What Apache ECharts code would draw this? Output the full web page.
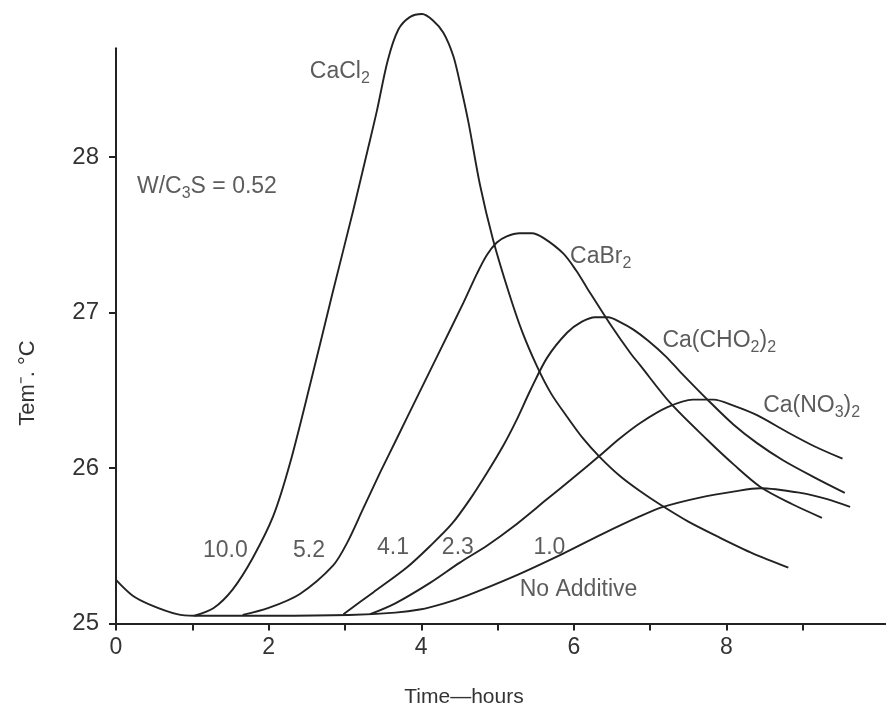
<!DOCTYPE html>
<html><head><meta charset="utf-8">
<script src="https://cdn.jsdelivr.net/npm/echarts@6/dist/echarts.min.js"></script>
<style>html,body{margin:0;padding:0;background:#fff}#c{width:886px;height:709px}</style>
</head><body><div id="c"></div>
<script>
// Data (x = time in hours, y = temperature °C)
const noAdditive = [[0,25.28],[0.215,25.18],[0.45,25.12],[0.80,25.06],[1.025,25.05],[2.04,25.05],[3.05,25.055],[3.66,25.07],[3.98,25.09],[4.3,25.13],[4.6,25.18],[5.2,25.30],[5.86,25.45],[6.35,25.57],[6.87,25.69],[7.17,25.75],[7.65,25.81],[8.11,25.85],[8.44,25.87],[8.97,25.84],[9.32,25.80],[9.62,25.75]];
const caCl2 = [[1.03,25.05],[1.28,25.10],[1.53,25.22],[1.79,25.42],[2.06,25.69],[2.28,26.03],[2.55,26.55],[2.84,27.13],[3.11,27.66],[3.3,28.05],[3.42,28.3],[3.56,28.62],[3.7,28.82],[3.85,28.9],[4.01,28.92],[4.15,28.88],[4.29,28.8],[4.42,28.65],[4.51,28.47],[4.62,28.22],[4.77,27.82],[4.94,27.47],[5.14,27.14],[5.32,26.88],[5.52,26.65],[5.7,26.48],[5.91,26.33],[6.12,26.19],[6.34,26.07],[6.6,25.95],[6.87,25.85],[7.13,25.765],[7.5,25.655],[7.88,25.56],[8.35,25.45],[8.81,25.36]];
const caBr2 = [[1.66,25.055],[2.0,25.10],[2.41,25.19],[2.84,25.37],[3.03,25.52],[3.24,25.74],[3.46,25.97],[3.68,26.19],[3.96,26.47],[4.25,26.76],[4.55,27.06],[4.73,27.25],[4.86,27.37],[4.99,27.45],[5.12,27.49],[5.29,27.51],[5.45,27.51],[5.6,27.48],[5.86,27.38],[6.03,27.27],[6.17,27.16],[6.47,26.93],[6.74,26.74],[6.87,26.66],[7.26,26.42],[7.75,26.18],[8.1,26.02],[8.44,25.88],[8.85,25.77],[9.25,25.68]];
const caCHO2 = [[2.98,25.06],[3.37,25.2],[3.81,25.36],[4.12,25.5],[4.4,25.64],[4.64,25.8],[4.85,25.96],[5.07,26.14],[5.25,26.31],[5.43,26.5],[5.65,26.71],[5.91,26.87],[6.1,26.94],[6.28,26.97],[6.45,26.97],[6.6,26.94],[6.78,26.89],[6.97,26.82],[7.2,26.72],[7.39,26.62],[7.75,26.44],[8.09,26.28],[8.4,26.16],[8.74,26.05],[9.15,25.94],[9.55,25.84]];
const caNO3 = [[3.33,25.06],[3.66,25.13],[4.11,25.26],[4.5,25.39],[4.86,25.5],[5.2,25.62],[5.65,25.8],[6.0,25.94],[6.34,26.08],[6.6,26.19],[6.87,26.29],[7.22,26.39],[7.56,26.44],[7.83,26.44],[8.1,26.4],[8.4,26.34],[8.8,26.23],[9.15,26.14],[9.52,26.06]];

const xTickValues = [0,1,2,3,4,5,6,7,8,9];
const xLabelValues = [0,2,4,6,8];
const yLabelValues = [25,26,27,28];

// annotation texts and their anchor (data coords, left edge / vertical centre)
const annoText = ['CaCl{s|2}','W/C{s|3}S = 0.52','CaBr{s|2}','Ca(CHO{s|2}){s|2}','Ca(NO{s|3}){s|2}','10.0','5.2','4.1','2.3','1.0','No Additive'];
const annoX = [2.54,0.275,5.95,7.16,8.48,1.14,2.32,3.42,4.27,5.47,5.29];
const annoY = [28.55,27.81,27.36,26.82,26.40,25.47,25.47,25.49,25.49,25.49,25.22];

const FONT = 'Liberation Sans, Arial, sans-serif';
const TXT = '#333';
const LINE = '#222';

const lineSeries = (name, data) => ({
  name, type: 'line', data, showSymbol: false, smooth: 0.3, clip: false,
  lineStyle: {color: LINE, width: 1.9}, silent: true, z: 3
});

const chart = echarts.init(document.getElementById('c'), null, {renderer: 'canvas'});
chart.setOption({
  backgroundColor: '#fff',
  animation: false,
  grid: {left: 116, right: 0, top: 48.2, bottom: 85.5, containLabel: false},
  xAxis: {
    type: 'value', min: 0, max: 10.09, interval: 1,
    axisLine: {show: true, lineStyle: {color: LINE, width: 2}},
    axisTick: {show: true, length: 7, lineStyle: {color: LINE, width: 2}, customValues: xTickValues},
    axisLabel: {show: true, customValues: xLabelValues, color: TXT, fontSize: 23, fontFamily: FONT, margin: 13},
    splitLine: {show: false}
  },
  yAxis: {
    type: 'value', min: 25, max: 28.7, interval: 1,
    axisLine: {show: true, lineStyle: {color: LINE, width: 2}},
    axisTick: {show: true, length: 7, lineStyle: {color: LINE, width: 2}, customValues: yLabelValues},
    axisLabel: {show: true, customValues: yLabelValues, color: TXT, fontSize: 24, fontFamily: FONT, margin: 17},
    splitLine: {show: false}
  },
  graphic: [
    {type: 'text', x: 28, y: 383, rotation: Math.PI/2,
     style: {text: 'Tem⁻. °C', fill: TXT, fontSize: 22, fontFamily: FONT, align: 'center', verticalAlign: 'middle'}},
    {type: 'text', x: 464, y: 697,
     style: {text: 'Time—hours', fill: TXT, fontSize: 21, fontFamily: FONT, align: 'center', verticalAlign: 'middle'}}
  ],
  series: [
    lineSeries('No Additive', noAdditive),
    lineSeries('CaCl2', caCl2),
    lineSeries('CaBr2', caBr2),
    lineSeries('Ca(CHO2)2', caCHO2),
    lineSeries('Ca(NO3)2', caNO3),
    {
      type: 'scatter', silent: true, symbolSize: 0, z: 5, clip: false,
      data: annoText.map((t, i) => ({value: [annoX[i], annoY[i]], name: t})),
      label: {
        show: true, position: 'right', distance: 0,
        formatter: p => p.name,
        color: TXT, fontSize: 23, fontFamily: FONT, lineHeight: 30, verticalAlign: 'middle',
        rich: {
          s: {fontSize: 16, fontFamily: FONT, color: TXT, verticalAlign: 'bottom', lineHeight: 16}
        }
      }
    }
  ]
});
</script>
</body></html>
